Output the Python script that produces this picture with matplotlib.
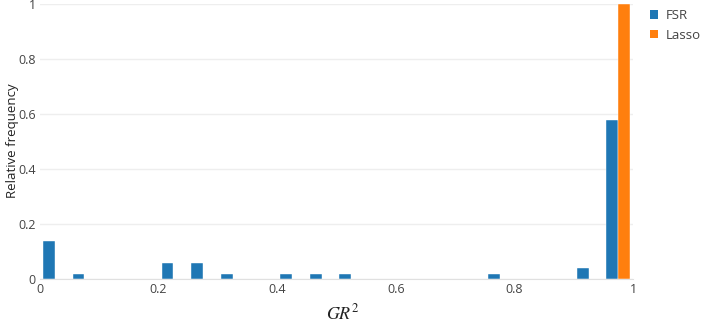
import numpy as np
import matplotlib.pyplot as plt
from matplotlib.patches import Patch

# histogram bins of GR^2 (width 0.05) and relative frequencies
bin_edges = np.arange(0, 1.0001, 0.05)
fsr_freq = [0.14, 0.02, 0, 0, 0.06, 0.06, 0.02, 0, 0.02, 0.02,
            0.02, 0, 0, 0, 0, 0.02, 0, 0, 0.04, 0.58]
lasso_freq = [0, 0, 0, 0, 0, 0, 0, 0, 0, 0,
              0, 0, 0, 0, 0, 0, 0, 0, 0, 1.0]
series = ['FSR', 'Lasso']
colors = ['#1f77b4', '#ff7f0e']
xticks = [0, 0.2, 0.4, 0.6, 0.8, 1]
xticklabels = ['0', '0.2', '0.4', '0.6', '0.8', '1']
yticks = [0, 0.2, 0.4, 0.6, 0.8, 1]
yticklabels = ['0', '0.2', '0.4', '0.6', '0.8', '1']

plt.rcParams['font.family'] = ['Open Sans', 'DejaVu Sans']
plt.rcParams['mathtext.fontset'] = 'stix'

W, H = 706, 326
fig = plt.figure(figsize=(W / 100, H / 100), dpi=100)
ax = fig.add_axes([40 / W, (H - 279) / H, (633 - 40) / W, (279 - 4) / H])

left = bin_edges[:-1]
bw = bin_edges[1] - bin_edges[0]
gap = 0.2
barw = bw * (1 - gap) / 2
for i, (vals, c) in enumerate(zip([fsr_freq, lasso_freq], colors)):
    ax.bar(left + bw * gap / 2 + i * barw, vals, width=barw, align='edge',
           color=c, edgecolor='white', linewidth=0.3, zorder=3)

ax.set_xlim(0, 1)
ax.set_ylim(0, 1)
ax.set_xticks(xticks)
ax.set_xticklabels(xticklabels)
ax.set_yticks(yticks)
ax.set_yticklabels(yticklabels)
ax.tick_params(length=0, labelsize=9, colors='#444444', pad=3)
ax.grid(axis='y', color='#eeeeee', linewidth=1, zorder=0)
for s in ['top', 'right', 'left']:
    ax.spines[s].set_visible(False)
ax.spines['bottom'].set_color('#e0e0e0')
ax.spines['bottom'].set_zorder(4)

fig.text(13 / W, 1 - 141 / H, 'Relative frequency', rotation=90,
         ha='center', va='center', fontsize=9.5, color='#222222')
fig.text(343 / W, 1 - 313 / H, r'$GR^2$', ha='center', va='center',
         fontsize=13, color='#222222')

handles = [Patch(facecolor=c, edgecolor='none', label=s)
           for s, c in zip(series, colors)]
fig.legend(handles=handles, loc='upper left', bbox_to_anchor=(645 / W, 1 - 4 / H),
           frameon=False, fontsize=9.5, handlelength=0.6, handleheight=0.6,
           handletextpad=0.6, labelspacing=0.5, borderaxespad=0, labelcolor='#444444')

fig.savefig('out.png', dpi=100)
